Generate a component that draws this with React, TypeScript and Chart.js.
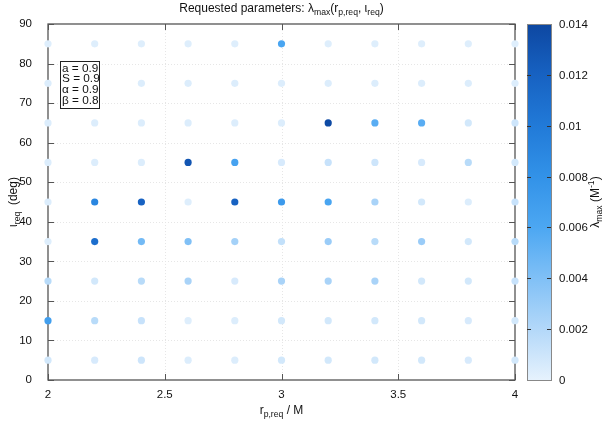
import React, { useEffect, useRef } from "react";
import { Chart, registerables } from "chart.js";
Chart.register(...registerables);

const rpValues = [2.0, 2.2, 2.4, 2.6, 2.8, 3.0, 3.2, 3.4, 3.6, 3.8, 4.0];
const iotaValues = [5, 15, 25, 35, 45, 55, 65, 75, 85];
const lambdaAtIota5 = [0.0008, 0.0006, 0.001, 0.0004, 0.0004, 0.0008, 0.0008, 0.0008, 0.0008, 0.0006, 0.0008];
const lambdaAtIota15 = [0.0068, 0.0018, 0.0012, 0.0003, 0.0004, 0.0008, 0.0008, 0.0008, 0.0008, 0.0006, 0.0008];
const lambdaAtIota25 = [0.0018, 0.0008, 0.0018, 0.0024, 0.0006, 0.0024, 0.0024, 0.0024, 0.0008, 0.0008, 0.0012];
const lambdaAtIota35 = [0.0003, 0.011, 0.0045, 0.004, 0.0026, 0.0014, 0.003, 0.0018, 0.003, 0.0008, 0.0018];
const lambdaAtIota45 = [0.0004, 0.009, 0.012, 0.0003, 0.012, 0.0072, 0.0062, 0.0024, 0.0008, 0.0004, 0.0012];
const lambdaAtIota55 = [0.0004, 0.0004, 0.0004, 0.013, 0.0065, 0.0006, 0.0012, 0.001, 0.0006, 0.0018, 0.0008];
const lambdaAtIota65 = [0.0004, 0.0004, 0.0004, 0.0004, 0.0004, 0.0004, 0.0138, 0.0055, 0.0055, 0.0008, 0.001];
const lambdaAtIota75 = [0.0004, 0.0004, 0.0004, 0.0004, 0.0004, 0.0004, 0.0004, 0.0004, 0.0004, 0.0004, 0.0004];
const lambdaAtIota85 = [0.0003, 0.0003, 0.0003, 0.0003, 0.0003, 0.0062, 0.0003, 0.0003, 0.0003, 0.0003, 0.0003];
const lambdaRows = [
  lambdaAtIota5, lambdaAtIota15, lambdaAtIota25, lambdaAtIota35, lambdaAtIota45,
  lambdaAtIota55, lambdaAtIota65, lambdaAtIota75, lambdaAtIota85,
];

const xTickValues = [2, 2.5, 3, 3.5, 4];
const yTickValues = [0, 10, 20, 30, 40, 50, 60, 70, 80, 90];
const colorbarTicks = [0, 0.002, 0.004, 0.006, 0.008, 0.01, 0.012, 0.014];
const colorbarMin = 0;
const colorbarMax = 0.014;
const paramLines = ["a = 0.9", "S = 0.9", "α = 0.9", "β = 0.8"];

const colorStops: [number, string][] = [
  [0, "#e6f2fd"],
  [0.002, "#b3d8f9"],
  [0.004, "#80c0f6"],
  [0.006, "#4ca7f2"],
  [0.008, "#3292e8"],
  [0.01, "#217ad8"],
  [0.012, "#1762c2"],
  [0.014, "#0d47a1"],
];

const FONT = '"Liberation Sans", Arial, Helvetica, sans-serif';

function hexToRgb(h: string) {
  const n = parseInt(h.slice(1), 16);
  return [(n >> 16) & 255, (n >> 8) & 255, n & 255];
}
function colorFor(v: number) {
  const c = Math.max(colorbarMin, Math.min(colorbarMax, v));
  for (let i = 0; i < colorStops.length - 1; i++) {
    const [v0, c0] = colorStops[i];
    const [v1, c1] = colorStops[i + 1];
    if (c <= v1) {
      const t = (c - v0) / (v1 - v0);
      const a = hexToRgb(c0), b = hexToRgb(c1);
      const r = a.map((x, k) => Math.round(x + (b[k] - x) * t));
      return `rgb(${r[0]},${r[1]},${r[2]})`;
    }
  }
  return colorStops[colorStops.length - 1][1];
}

type Part = [string, number];
function drawRich(ctx: CanvasRenderingContext2D, parts: Part[], x: number, y: number, size: number, align: "center" | "left") {
  const small = size * 0.72;
  let w = 0;
  for (const [t, m] of parts) {
    ctx.font = `${m ? small : size}px ${FONT}`;
    w += ctx.measureText(t).width;
  }
  let cx = align === "center" ? x - w / 2 : x;
  ctx.textAlign = "left";
  ctx.textBaseline = "middle";
  for (const [t, m] of parts) {
    ctx.font = `${m ? small : size}px ${FONT}`;
    const dy = m === 1 ? size * 0.32 : m === 2 ? -size * 0.35 : 0;
    ctx.fillText(t, cx, y + dy);
    cx += ctx.measureText(t).width;
  }
}

const decorPlugin = {
  id: "decor",
  beforeDatasetsDraw(chart: any) {
    const ctx = chart.ctx as CanvasRenderingContext2D;
    const { left, right, top, bottom } = chart.chartArea;
    const xs = chart.scales.x, ys = chart.scales.y;
    ctx.save();
    ctx.strokeStyle = "#e6e6e6";
    ctx.lineWidth = 1;
    ctx.setLineDash([1, 2]);
    for (const v of xTickValues) {
      if (v === 2 || v === 4) continue;
      const px = Math.round(xs.getPixelForValue(v)) + 0.5;
      ctx.beginPath(); ctx.moveTo(px, top); ctx.lineTo(px, bottom); ctx.stroke();
    }
    for (const v of yTickValues) {
      if (v === 0 || v === 90) continue;
      const py = Math.round(ys.getPixelForValue(v)) + 0.5;
      ctx.beginPath(); ctx.moveTo(left, py); ctx.lineTo(right, py); ctx.stroke();
    }
    ctx.setLineDash([]);
    ctx.strokeStyle = "#555";
    ctx.lineWidth = 1.3;
    ctx.strokeRect(left, top, right - left, bottom - top);
    ctx.lineWidth = 1;
    const tl = 6;
    for (const v of xTickValues) {
      const px = Math.round(xs.getPixelForValue(v)) + 0.5;
      ctx.beginPath(); ctx.moveTo(px, bottom); ctx.lineTo(px, bottom - tl); ctx.stroke();
      ctx.beginPath(); ctx.moveTo(px, top); ctx.lineTo(px, top + tl); ctx.stroke();
    }
    for (const v of yTickValues) {
      const py = Math.round(ys.getPixelForValue(v)) + 0.5;
      ctx.beginPath(); ctx.moveTo(left, py); ctx.lineTo(left + tl, py); ctx.stroke();
      ctx.beginPath(); ctx.moveTo(right, py); ctx.lineTo(right - tl, py); ctx.stroke();
    }
    ctx.restore();
  },
  afterDatasetsDraw(chart: any) {
    const ctx = chart.ctx as CanvasRenderingContext2D;
    const { left, right, top, bottom } = chart.chartArea;
    const cxm = (left + right) / 2;
    const cym = (top + bottom) / 2;
    ctx.save();
    // parameter box
    const bx = 60, by = 61.5, bw = 39, bh = 47;
    ctx.fillStyle = "#fff";
    ctx.fillRect(bx, by, bw, bh);
    ctx.strokeStyle = "#222";
    ctx.lineWidth = 1;
    ctx.strokeRect(bx + 0.5, by, bw, bh);
    ctx.fillStyle = "#111";
    ctx.font = `11.8px ${FONT}`;
    ctx.textAlign = "left";
    ctx.textBaseline = "middle";
    paramLines.forEach((t, i) => ctx.fillText(t, bx + 2, by + 6.8 + i * 10.8));

    ctx.fillStyle = "#111";
    // title
    drawRich(ctx, [["Requested parameters: λ", 0], ["max", 1], ["(r", 0], ["p,req", 1], [", ι", 0], ["req", 1], [")", 0]], cxm, 8.5, 12, "center");
    // x title
    drawRich(ctx, [["r", 0], ["p,req", 1], [" / M", 0]], cxm, 411, 12, "center");
    // y title
    ctx.save();
    ctx.translate(14, cym);
    ctx.rotate(-Math.PI / 2);
    drawRich(ctx, [["ι", 0], ["req", 1], ["  (deg)", 0]], 0, 0, 12, "center");
    ctx.restore();

    // colorbar
    const cbL = 527, cbR = 551;
    const g = ctx.createLinearGradient(0, bottom, 0, top);
    for (const [v, c] of colorStops) g.addColorStop((v - colorbarMin) / (colorbarMax - colorbarMin), c);
    ctx.fillStyle = g;
    ctx.fillRect(cbL, top, cbR - cbL, bottom - top);
    ctx.strokeStyle = "#888";
    ctx.lineWidth = 1;
    ctx.strokeRect(cbL + 0.5, top + 0.5, cbR - cbL, bottom - top);
    ctx.strokeStyle = "#333";
    ctx.fillStyle = "#111";
    ctx.font = `11.5px ${FONT}`;
    ctx.textAlign = "left";
    ctx.textBaseline = "middle";
    for (const v of colorbarTicks) {
      const py = Math.round(bottom - ((v - colorbarMin) / (colorbarMax - colorbarMin)) * (bottom - top)) + 0.5;
      if (v !== colorbarMin && v !== colorbarMax) {
        ctx.beginPath(); ctx.moveTo(cbL, py); ctx.lineTo(cbL + 4, py); ctx.stroke();
        ctx.beginPath(); ctx.moveTo(cbR, py); ctx.lineTo(cbR - 4, py); ctx.stroke();
      }
      ctx.fillText(String(v), 559, py);
    }
    ctx.save();
    ctx.translate(596, cym);
    ctx.rotate(-Math.PI / 2);
    drawRich(ctx, [["λ", 0], ["max", 1], [" (M", 0], ["-1", 2], [")", 0]], 0, 0, 12, "center");
    ctx.restore();
    ctx.restore();
  },
};

export default function App() {
  const ref = useRef<HTMLCanvasElement>(null);
  useEffect(() => {
    const points: { x: number; y: number }[] = [];
    const colors: string[] = [];
    iotaValues.forEach((iy, r) => {
      rpValues.forEach((rx, c) => {
        points.push({ x: rx, y: iy });
        colors.push(colorFor(lambdaRows[r][c]));
      });
    });
    const chart = new Chart(ref.current!, {
      type: "scatter",
      data: {
        datasets: [
          {
            data: points,
            pointBackgroundColor: colors,
            pointBorderWidth: 0,
            pointBorderColor: "transparent",
            pointRadius: 3.6,
            clip: false,
          } as any,
        ],
      },
      options: {
        animation: false,
        responsive: false,
        devicePixelRatio: 1,
        layout: { padding: { left: 0, right: 92, top: 24, bottom: 0 } },
        plugins: { legend: { display: false }, tooltip: { enabled: false }, title: { display: false } },
        scales: {
          x: {
            type: "linear",
            min: 2,
            max: 4,
            afterFit: (s: any) => { s.height = 46; },
            afterBuildTicks: (s: any) => { s.ticks = xTickValues.map((v) => ({ value: v })); },
            grid: { display: false },
            border: { display: false },
            ticks: { color: "#111", font: { family: FONT, size: 11.5 }, padding: 0, callback: (v: any) => String(v) },
          },
          y: {
            type: "linear",
            min: 0,
            max: 90,
            afterFit: (s: any) => { s.width = 48; },
            afterBuildTicks: (s: any) => { s.ticks = yTickValues.map((v) => ({ value: v })); },
            grid: { display: false },
            border: { display: false },
            ticks: { color: "#111", font: { family: FONT, size: 11.5 }, padding: 8, callback: (v: any) => String(v) },
          },
        },
      },
      plugins: [decorPlugin],
    });
    return () => chart.destroy();
  }, []);
  return (
    <div style={{ position: "fixed", left: 0, top: 0, width: 607, height: 426, background: "#fff" }}>
      <canvas ref={ref} width={607} height={426} style={{ display: "block" }} />
    </div>
  );
}
